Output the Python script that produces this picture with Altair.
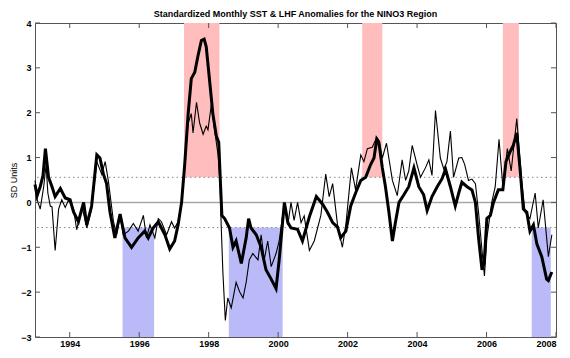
import altair as alt
import pandas as pd

title_text = "Standardized Monthly SST & LHF Anomalies for the NINO3 Region"
y_title = "SD Units"

# SST anomaly (thick line)
sst_t = [1993.00,1993.06,1993.15,1993.23,1993.30,1993.39,1993.49,1993.58,1993.73,1993.87,
         1994.01,1994.11,1994.25,1994.40,1994.49,1994.63,1994.78,1994.87,1994.97,1995.06,
         1995.16,1995.30,1995.45,1995.59,1995.78,1995.97,1996.16,1996.26,1996.40,1996.55,
         1996.64,1996.74,1996.88,1997.02,1997.12,1997.22,1997.31,1997.41,1997.50,1997.60,
         1997.69,1997.79,1997.87,1997.93,1998.03,1998.12,1998.22,1998.29,1998.34,1998.38,
         1998.46,1998.60,1998.70,1998.79,1998.94,1999.08,1999.15,1999.22,1999.37,1999.51,
         1999.65,1999.80,1999.94,2000.03,2000.18,2000.28,2000.37,2000.56,2000.70,2000.90,
         2001.10,2001.28,2001.42,2001.57,2001.71,2001.80,2001.95,2002.09,2002.23,2002.38,
         2002.52,2002.66,2002.76,2002.84,2002.90,2003.00,2003.09,2003.19,2003.29,2003.38,
         2003.48,2003.62,2003.76,2003.91,2004.05,2004.19,2004.29,2004.43,2004.58,2004.72,
         2004.82,2004.96,2005.10,2005.20,2005.29,2005.44,2005.58,2005.68,2005.77,2005.87,
         2005.93,2006.01,2006.11,2006.20,2006.34,2006.47,2006.56,2006.68,2006.77,2006.87,
         2006.97,2007.06,2007.16,2007.25,2007.35,2007.45,2007.59,2007.73,2007.78,2007.88]
sst_v = [0.40,0.15,0.35,0.60,1.20,0.56,0.35,0.13,0.31,0.10,
         0.06,-0.21,-0.43,0.00,-0.50,-0.08,1.06,0.99,0.63,0.42,
         -0.22,-0.79,-0.26,-0.79,-1.00,-0.79,-0.64,-0.79,-0.57,-0.43,
         -0.57,-0.72,-1.04,-0.86,-0.50,0.00,0.84,1.98,2.76,2.90,
         3.26,3.61,3.64,3.47,2.69,1.98,1.48,1.34,0.42,-0.29,
         -0.36,-0.57,-1.00,-0.86,-1.36,-0.79,-0.36,-0.57,-0.72,-1.00,
         -1.50,-1.71,-1.92,-1.28,0.00,-0.45,-0.57,-0.60,-0.86,-0.32,
         0.13,-0.04,-0.22,-0.45,-0.55,-0.79,-0.64,-0.08,0.21,0.49,
         0.56,0.84,0.99,1.41,1.34,0.77,0.35,-0.22,-0.86,-0.43,
         0.00,0.17,0.35,0.77,0.35,0.17,-0.18,0.13,0.35,0.53,
         0.74,0.35,-0.08,0.21,0.45,0.35,0.28,0.00,-0.79,-1.50,
         -1.36,-0.36,-0.29,0.00,0.28,0.28,0.91,1.13,1.27,1.55,
         0.70,-0.15,-0.22,-0.64,-0.50,-0.93,-1.21,-1.71,-1.74,-1.55]

# LHF anomaly (thin line)
lhf_t = [1993.00,1993.06,1993.15,1993.25,1993.32,1993.37,1993.44,1993.49,1993.58,1993.68,
         1993.77,1993.87,1993.97,1994.11,1994.20,1994.35,1994.49,1994.63,1994.78,1994.92,
         1995.02,1995.11,1995.26,1995.35,1995.45,1995.54,1995.69,1995.83,1995.97,1996.12,
         1996.21,1996.31,1996.45,1996.55,1996.64,1996.79,1996.93,1997.02,1997.12,1997.22,
         1997.31,1997.41,1997.50,1997.55,1997.65,1997.74,1997.84,1997.93,1997.98,1998.08,
         1998.17,1998.27,1998.33,1998.36,1998.41,1998.48,1998.55,1998.65,1998.79,1998.89,
         1998.99,1999.08,1999.17,1999.27,1999.42,1999.51,1999.60,1999.70,1999.80,1999.94,
         2000.03,2000.13,2000.20,2000.28,2000.37,2000.46,2000.56,2000.66,2000.75,2000.90,
         2001.04,2001.23,2001.37,2001.47,2001.57,2001.71,2001.85,2001.95,2002.11,2002.23,
         2002.38,2002.47,2002.57,2002.71,2002.84,2002.90,2003.00,2003.12,2003.29,2003.43,
         2003.57,2003.67,2003.76,2003.86,2004.00,2004.10,2004.24,2004.34,2004.43,2004.53,
         2004.67,2004.77,2004.86,2004.96,2005.05,2005.20,2005.29,2005.37,2005.48,2005.58,
         2005.68,2005.77,2005.87,2005.94,2006.01,2006.15,2006.25,2006.36,2006.47,2006.60,
         2006.71,2006.87,2007.01,2007.11,2007.25,2007.40,2007.49,2007.63,2007.78,2007.88]
lhf_v = [0.49,0.06,-0.15,0.35,0.84,0.21,-0.08,-0.10,-1.07,-0.15,
         0.06,-0.11,0.06,-0.15,-0.61,-0.08,-0.57,-0.15,0.91,0.63,
         0.91,0.49,-0.43,-0.72,-0.29,-0.72,-0.64,-0.47,-0.64,-0.29,
         -0.79,-0.50,-0.79,-0.36,-0.43,-0.72,-0.43,-0.57,-0.43,0.00,
         0.91,1.77,1.98,1.55,2.23,1.77,1.52,1.70,1.62,2.19,
         1.62,1.06,0.42,-0.50,-1.57,-2.63,-2.13,-2.35,-1.78,-1.99,
         -2.13,-1.78,-1.28,-1.14,-1.28,-0.72,-1.28,-0.86,-1.43,-1.14,
         -0.86,-0.29,-0.08,-0.50,0.00,-0.40,0.00,-0.45,-0.30,-1.07,
         -0.86,-0.29,0.63,0.13,0.42,-0.50,-1.00,-0.50,0.77,0.28,
         1.06,0.91,1.20,1.23,1.45,1.38,0.99,1.32,0.49,0.15,
         0.95,0.49,0.70,1.27,0.84,0.56,0.77,0.95,0.60,2.05,
         0.99,0.74,0.91,1.59,0.56,0.99,1.00,0.85,0.49,0.52,
         0.42,-0.22,-1.07,-1.64,-0.79,0.00,0.35,1.41,0.35,1.20,
         0.70,1.87,0.49,-0.22,-0.36,0.21,-0.57,0.06,-1.21,-0.72]

# warm (red) and cold (blue) event periods
warm_start = [1997.29, 2002.42, 2006.47]
warm_end = [1998.31, 2003.00, 2006.93]
cold_start = [1995.52, 1998.58, 2007.30]
cold_end = [1996.43, 2000.13, 2007.85]
threshold = 0.56
y_min, y_max = -3, 4
x_min, x_max = 1993, 2008
x_ticks = [1994, 1996, 1998, 2000, 2002, 2004, 2006, 2008]
y_ticks = [-3, -2, -1, 0, 1, 2, 3, 4]

W, H = 521, 314
FONT = "Liberation Sans"

xs = alt.Scale(domain=[x_min, x_max], nice=False, zero=False)
ys = alt.Scale(domain=[y_min, y_max], nice=False, zero=False)
x_axis = alt.Axis(values=x_ticks, format="d", title=None, grid=False, ticks=False,
                  domain=False, labelPadding=2, labelFlush=True)
y_axis = alt.Axis(values=y_ticks, format="d", title=y_title, grid=False, ticks=False,
                  domain=False, labelPadding=4, labelFlush=False, titlePadding=2)

warm_df = pd.DataFrame({"t0": warm_start, "t1": warm_end,
                        "v0": [threshold] * len(warm_start), "v1": [y_max] * len(warm_start)})
cold_df = pd.DataFrame({"t0": cold_start, "t1": cold_end,
                        "v0": [-threshold] * len(cold_start), "v1": [y_min] * len(cold_start)})
sst_df = pd.DataFrame({"t": sst_t, "v": sst_v})
lhf_df = pd.DataFrame({"t": lhf_t, "v": lhf_v})
zero_df = pd.DataFrame({"v": [0.0]})
thr_df = pd.DataFrame({"v": [threshold, -threshold]})
yt_df = pd.DataFrame({"v": y_ticks})
xt_df = pd.DataFrame({"t": x_ticks})

def X(f):
    return alt.X(f, type="quantitative", scale=xs, axis=x_axis)

def Y(f):
    return alt.Y(f, type="quantitative", scale=ys, axis=y_axis)

warm = alt.Chart(warm_df).mark_rect(color="#ffbdbd").encode(x=X("t0"), x2="t1", y=Y("v0"), y2="v1")
cold = alt.Chart(cold_df).mark_rect(color="#babaf8").encode(x=X("t0"), x2="t1", y=Y("v0"), y2="v1")
zero = alt.Chart(zero_df).mark_rule(color="#a8a8a8", strokeWidth=1.6).encode(y=Y("v"))
thr = alt.Chart(thr_df).mark_rule(color="#888888", strokeWidth=1, strokeDash=[1.5, 3]).encode(y=Y("v"))
lhf = alt.Chart(lhf_df).mark_line(color="black", strokeWidth=1.1).encode(x=X("t"), y=Y("v"))
sst = alt.Chart(sst_df).mark_line(color="black", strokeWidth=3).encode(x=X("t"), y=Y("v"))

tick_col = "#555555"
lt = alt.Chart(yt_df).mark_rule(color=tick_col).encode(y=Y("v"), x=alt.value(0), x2=alt.value(5))
rt = alt.Chart(yt_df).mark_rule(color=tick_col).encode(y=Y("v"), x=alt.value(W - 5), x2=alt.value(W))
tt = alt.Chart(xt_df).mark_rule(color=tick_col).encode(x=X("t"), y=alt.value(0), y2=alt.value(5))
bt = alt.Chart(xt_df).mark_rule(color=tick_col).encode(x=X("t"), y=alt.value(H - 5), y2=alt.value(H))

chart = alt.layer(warm, cold, zero, thr, lhf, sst, lt, rt, tt, bt).properties(
    width=W, height=H,
    title=alt.TitleParams(title_text, font=FONT, fontSize=9, fontWeight="bold",
                          anchor="middle", offset=0, color="black"),
    padding={"left": 27, "top": 15, "right": 5, "bottom": 12},
    autosize="none",
).configure_view(
    stroke="#555555", strokeWidth=1
).configure_axis(
    labelFont=FONT, labelFontSize=9, labelFontWeight="bold", labelColor="black",
    titleFont=FONT, titleFontSize=9, titleFontWeight="normal", titleColor="black",
)

chart.save("out.html", embed_options={"renderer": "svg", "actions": False})
